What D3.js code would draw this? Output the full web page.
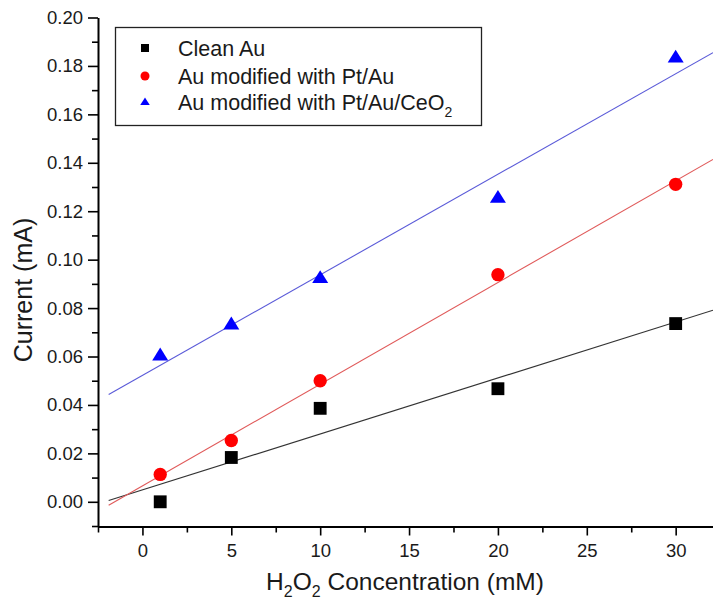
<!DOCTYPE html>
<html><head><meta charset="utf-8">
<script src="https://cdn.jsdelivr.net/npm/d3@7/dist/d3.min.js"></script>
<style>body{margin:0;background:#fff}svg{display:block}</style>
</head><body>
<script>
// ---- data ----
const concentrations = [1, 5, 10, 20, 30];
const cleanAu   = [0.0000, 0.0183, 0.0386, 0.0467, 0.0736];
const ptAu      = [0.0113, 0.0253, 0.0500, 0.0938, 0.1311];
const ptAuCeO2  = [0.0605, 0.0733, 0.0925, 0.1256, 0.1835];
// fitted straight lines (end points)
const fitX      = [-1.9, 32.1];
const fitClean  = [0.0005, 0.0791];
const fitPtAu   = [-0.0014, 0.1414];
const fitCeO2   = [0.0443, 0.1855];
const xTicks = [0, 5, 10, 15, 20, 25, 30];
const xMinorTicks = [-2.5, 2.5, 7.5, 12.5, 17.5, 22.5, 27.5];
const yTicks = [0.00, 0.02, 0.04, 0.06, 0.08, 0.10, 0.12, 0.14, 0.16, 0.18, 0.20];
const yMinorTicks = [-0.01, 0.01, 0.03, 0.05, 0.07, 0.09, 0.11, 0.13, 0.15, 0.17, 0.19];
const seriesNames = ["Clean Au", "Au modified with Pt/Au", "Au modified with Pt/Au/CeO"];
const seriesColors = ["#000000", "#ff0000", "#0000ff"];
const lineColors = ["#333333", "#e05a5a", "#5a5ad8"];

const W = 713, H = 607;
const FONT = "'Liberation Sans', Arial, sans-serif";
const svg = d3.select("body").append("svg").attr("width", W).attr("height", H)
  .style("font-family", FONT);

const x = d3.scaleLinear().domain([-2.5, 32.1]).range([98, 713]);
const y = d3.scaleLinear().domain([-0.0102, 0.20]).range([526.5, 17.5]);

// triangle symbol: size = width^2, height = 0.8 * width
const flatTriangle = {
  draw(ctx, size) {
    const w = Math.sqrt(size), h = w * 0.8;
    ctx.moveTo(0, -h * 0.6);
    ctx.lineTo(w / 2, h * 0.4);
    ctx.lineTo(-w / 2, h * 0.4);
    ctx.closePath();
  }
};

// fit lines
const fits = [fitClean, fitPtAu, fitCeO2];
const lineGen = d3.line().x(d => x(d[0])).y(d => y(d[1]));
fits.forEach((f, i) => {
  svg.append("path")
    .datum(fitX.map((xv, j) => [xv, f[j]]))
    .attr("d", lineGen)
    .attr("fill", "none")
    .attr("stroke", lineColors[i])
    .attr("stroke-width", 1.1);
});

// markers
const sym = [d3.symbolSquare, d3.symbolCircle, flatTriangle];
const symSize = [165, 140, 256];
const allSeries = [cleanAu, ptAu, ptAuCeO2];
allSeries.forEach((vals, i) => {
  svg.append("g").selectAll("path").data(vals).join("path")
    .attr("transform", (d, j) => `translate(${x(concentrations[j])},${y(d)})`)
    .attr("d", d3.symbol().type(sym[i]).size(symSize[i]))
    .attr("fill", seriesColors[i]);
});

// axes
const axisColor = "#000";
svg.append("g").attr("transform", `translate(0,${y.range()[0]})`)
  .call(d3.axisBottom(x).tickValues(xTicks).tickSize(9).tickSizeOuter(0).tickPadding(8)
    .tickFormat(d3.format("d")));
svg.append("g").attr("transform", `translate(0,${y.range()[0]})`)
  .call(d3.axisBottom(x).tickValues(xMinorTicks).tickSize(6).tickSizeOuter(0).tickFormat(""))
  .select(".domain").remove();
svg.append("g").attr("transform", `translate(${x.range()[0]},0)`)
  .call(d3.axisLeft(y).tickValues(yTicks).tickSize(10).tickSizeOuter(0).tickPadding(5)
    .tickFormat(d3.format(".2f")));
svg.append("g").attr("transform", `translate(${x.range()[0]},0)`)
  .call(d3.axisLeft(y).tickValues(yMinorTicks).tickSize(6).tickSizeOuter(0).tickFormat(""))
  .select(".domain").remove();
svg.selectAll(".domain").attr("stroke", axisColor).attr("stroke-width", 2);
svg.selectAll(".tick line").attr("stroke", axisColor).attr("stroke-width", 1.6);
svg.selectAll(".tick text").attr("fill", "#1a1a1a").style("font-size", "18.5px").style("font-family", FONT);

// axis titles
const xt = svg.append("text").attr("x", 405).attr("y", 590).attr("text-anchor", "middle")
  .attr("fill", "#1a1a1a").style("font-size", "24.5px");
xt.append("tspan").text("H");
xt.append("tspan").text("2").style("font-size", "16px").attr("dy", 7);
xt.append("tspan").text("O").attr("dy", -7);
xt.append("tspan").text("2").style("font-size", "16px").attr("dy", 7);
xt.append("tspan").text(" Concentration (mM)").attr("dy", -7);

svg.append("text").attr("transform", "translate(32,290) rotate(-90)")
  .attr("text-anchor", "middle").attr("fill", "#1a1a1a").style("font-size", "25px")
  .text("Current (mA)");

// legend
const lg = svg.append("g");
lg.append("rect").attr("x", 115.5).attr("y", 27.5).attr("width", 366).attr("height", 98)
  .attr("fill", "#fff").attr("stroke", "#222").attr("stroke-width", 1.3);
const rowsY = [48, 76, 102];
const legSize = [64, 64, 90];
seriesNames.forEach((name, i) => {
  lg.append("path").attr("transform", `translate(145,${rowsY[i]})`)
    .attr("d", d3.symbol().type(sym[i]).size(legSize[i])).attr("fill", seriesColors[i]);
  const t = lg.append("text").attr("x", 178).attr("y", rowsY[i] + 8)
    .attr("fill", "#1a1a1a").style("font-size", "21.5px").text(name);
  if (i === 2) t.append("tspan").text("2").style("font-size", "14px").attr("dy", 7);
});
</script>
</body></html>
